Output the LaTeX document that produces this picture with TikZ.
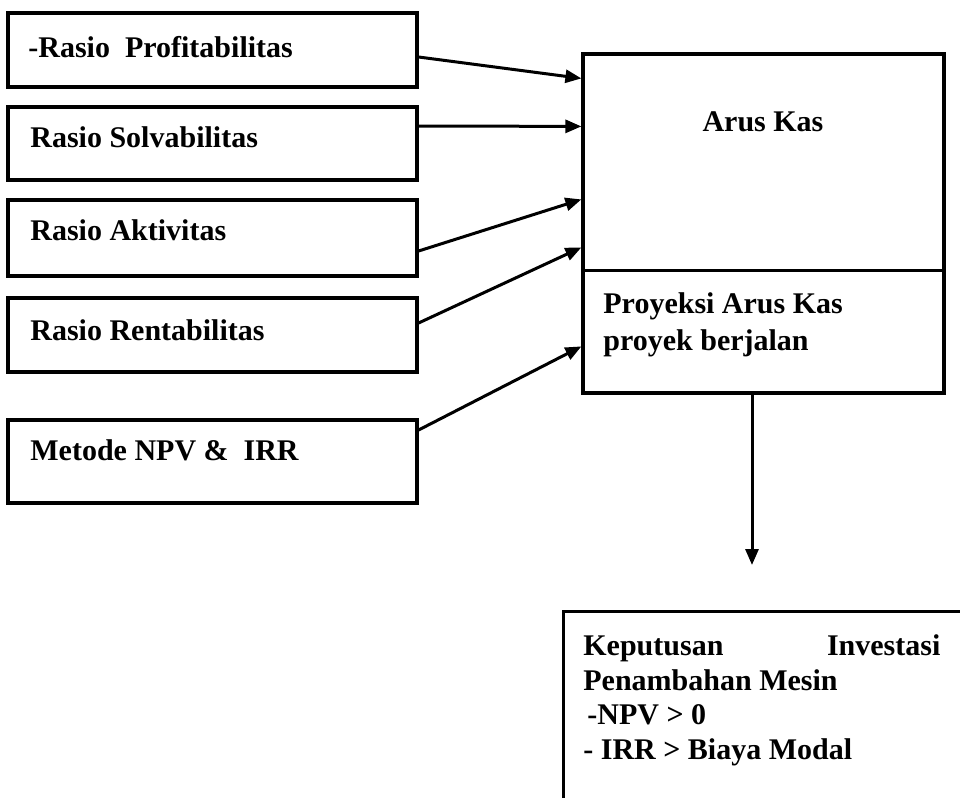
\documentclass[tikz,border=0pt]{standalone}
\usepackage{fontspec}
\setmainfont{Liberation Serif}
\usepackage{tikz}
\usetikzlibrary{calc,arrows.meta}
\tikzset{
  box/.style={draw, line width=1.6pt, inner sep=0pt},
  lab/.style={inner sep=0pt, font=\fontsize{15}{17.4}\selectfont\bfseries},
  arr/.style={draw, line width=1.5pt, -{Triangle[length=8pt,width=6.5pt]}},
}

\begin{document}
\begin{tikzpicture}[x=0.5pt,y=-0.5pt]
  \useasboundingbox (0,0) rectangle (960,798);

  % ratio boxes on the left
  \node[box, minimum width=204.5pt, minimum height=37pt]   (prof) at (212.5,50)    {};
  \node[box, minimum width=204.5pt, minimum height=36.5pt] (solv) at (212.5,143.5) {};
  \node[box, minimum width=204.5pt, minimum height=38pt]   (akti) at (212.5,238)   {};
  \node[box, minimum width=204.5pt, minimum height=37pt]   (rent) at (212.5,335)   {};
  \node[box, minimum width=204.5pt, minimum height=41.5pt] (npv)  at (212.5,461.5) {};

  \node[lab, anchor=west] (proft) at (28,47)  {-Rasio\ \ Profitabilitas};
  \node[lab, anchor=west] (solvt) at (30,137) {Rasio Solvabilitas};
  \node[lab, anchor=west] (aktit) at (30,230) {Rasio Aktivitas};
  \node[lab, anchor=west] (rentt) at (30,330) {Rasio Rentabilitas};
  \node[lab, anchor=west] (npvt)  at (30,450) {Metode NPV \&\ \ IRR};

  % cash flow box
  \node[box, minimum width=180.5pt, minimum height=169.5pt] (kas) at (763.5,223.5) {};
  \draw[line width=1.6pt] ($(kas.north west)+(0,218)$) coordinate (split) -- (split -| kas.east);
  \node[lab] (kast) at (763,122) {Arus Kas};
  \node[lab, anchor=west, align=left, font=\fontsize{15}{18.5}\selectfont\bfseries] (proy) at (603,324.5)
    {Proyeksi Arus Kas\\proyek berjalan};

  \draw[arr] ([yshift=-3.5pt]prof.east) -- ($(kas.north west)+(0,26)$);
  \draw[arr] ([yshift=8.75pt]solv.east) -- ($(kas.north west)+(0,74)$);
  \draw[arr] ([yshift=-6.5pt]akti.east) -- ($(kas.north west)+(0,147)$);
  \draw[arr] ([yshift=6pt]rent.east)    -- ($(kas.north west)+(0,195)$);
  \draw[arr] ([yshift=15.75pt]npv.east) -- ($(kas.north west)+(0,294)$);

  % decision
  \coordinate (drop) at (752,565);
  \draw[arr] (kas.south -| drop) -- (drop);

  \node[box, anchor=north west, minimum width=212pt, minimum height=112pt] (kep) at (562,610) {};
  \node[lab, anchor=north west, align=left] (kept) at (583,634)
    {\hbox to 178.5pt{Keputusan\hfill Investasi}\\Penambahan Mesin\\\hspace{2pt}-NPV > 0\\- IRR > Biaya Modal};
\end{tikzpicture}
\end{document}
